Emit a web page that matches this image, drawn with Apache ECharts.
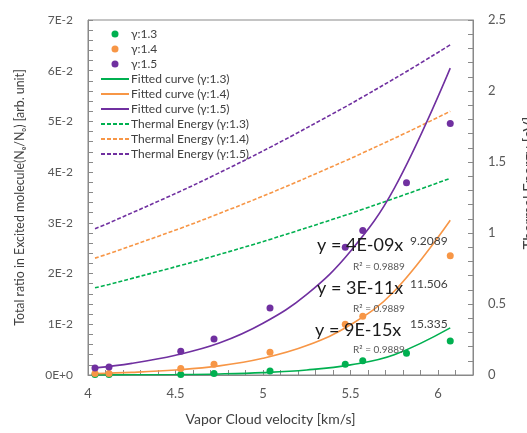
<!DOCTYPE html>
<html>
<head>
<meta charset="utf-8">
<script src="https://cdn.jsdelivr.net/npm/echarts@6/dist/echarts.min.js"></script>
<style>html,body{margin:0;padding:0;background:#fff}#c{width:527px;height:433px}</style>
</head>
<body>
<div id="c"></div>
<script>
// ---- data ----
const velG = [4.04, 4.12, 4.53, 4.72, 5.04, 5.47, 5.57, 5.82, 6.07];
const ratioG = [0.0001, 0.0001, 0.0001, 0.0003, 0.0008, 0.0021, 0.0028, 0.0043, 0.0067];
const velO = [4.04, 4.12, 4.53, 4.72, 5.04, 5.47, 5.57, 6.07];
const ratioO = [0.0003, 0.0003, 0.0013, 0.0021, 0.0045, 0.0100, 0.0116, 0.0235];
const velP = [4.04, 4.12, 4.53, 4.72, 5.04, 5.47, 5.57, 5.82, 6.07];
const ratioP = [0.0014, 0.0016, 0.0047, 0.0071, 0.0132, 0.0252, 0.0285, 0.0379, 0.0496];

// fitted curves
const fitX = [4.04, 4.25, 4.5, 4.75, 5.0, 5.25, 5.5, 5.75, 6.07];
const fitG = [0.00002, 0.00004, 0.00009, 0.00021, 0.00047, 0.00099, 0.0020, 0.0040, 0.0093];
const fitO = [0.00028, 0.00051, 0.00098, 0.0018, 0.0033, 0.0058, 0.0099, 0.0165, 0.0305];
const fitP = [0.0014, 0.0023, 0.0039, 0.0063, 0.0102, 0.0159, 0.0244, 0.0368, 0.0605];

// thermal energy [eV]
const velT = [4.04, 4.12, 4.53, 4.72, 5.04, 5.47, 5.57, 5.82, 6.07];
const energyG = [0.614, 0.638, 0.772, 0.838, 0.955, 1.125, 1.167, 1.274, 1.385];
const energyO = [0.823, 0.855, 1.034, 1.123, 1.280, 1.508, 1.564, 1.707, 1.857];
const energyP = [1.030, 1.071, 1.295, 1.406, 1.603, 1.888, 1.958, 2.137, 2.325];

const names = ['γ:1.3', 'γ:1.4', 'γ:1.5',
  'Fitted curve (γ:1.3)', 'Fitted curve (γ:1.4)', 'Fitted curve (γ:1.5)',
  'Thermal Energy (γ:1.3)', 'Thermal Energy (γ:1.4)', 'Thermal Energy (γ:1.5)'];

const equations = [
  { main: 'y = 4E-09x', sup: '9.2089', r2: 'R² = 0.9889' },
  { main: 'y = 3E-11x', sup: '11.506', r2: 'R² = 0.9889' },
  { main: 'y = 9E-15x', sup: '15.335', r2: 'R² = 0.9889' }
];

const xTitle = 'Vapor Cloud velocity [km/s]';
const yTitle = 'Total ratio in Excited molecule(Nₑ/Nₒ) [arb. unit]';
const y2Title = 'Thermal Energy [eV]';

const GREEN = '#00B050', ORANGE = '#F79646', PURPLE = '#7030A0';
const FONT = 'Lato, "Open Sans", sans-serif';
const AX = '#898989';

const pairs = (xs, ys) => xs.map((x, i) => [x, ys[i]]);
const isMult = (v, m) => Math.abs(v / m - Math.round(v / m)) < 1e-6;

const chart = echarts.init(document.getElementById('c'), null, { renderer: 'canvas' });

function scatter(name, xs, ys, color) {
  return { name, type: 'scatter', data: pairs(xs, ys), symbol: 'circle', symbolSize: 7,
    itemStyle: { color, opacity: 1 }, z: 4 };
}
function fit(name, ys, color) {
  return { name, type: 'line', data: pairs(fitX, ys), smooth: 0.4, symbol: 'none',
    lineStyle: { color, width: 1.6 }, itemStyle: { color }, z: 3 };
}
function thermal(name, ys, color) {
  return { name, type: 'line', yAxisIndex: 1, data: pairs(velT, ys), smooth: 0.4, symbol: 'none',
    lineStyle: { color, width: 1.6, type: [4, 2] }, itemStyle: { color }, z: 2 };
}

const graphics = [];
const eqPos = [
  { x: 317, y: 247, sx: 410, sy: 242, rx: 353, ry: 268 },
  { x: 317, y: 290, sx: 410, sy: 285, rx: 353, ry: 310 },
  { x: 315, y: 332, sx: 410, sy: 325, rx: 353, ry: 351 }
];
equations.forEach((e, i) => {
  const p = eqPos[i];
  graphics.push({ type: 'text', left: p.x, top: p.y - 11, z: 10,
    style: { text: e.main, font: '18px ' + FONT, fill: '#1a1a1a' } });
  graphics.push({ type: 'text', left: p.sx, top: p.sy - 7, z: 10,
    style: { text: e.sup, font: '12px ' + FONT, fill: '#404040' } });
  graphics.push({ type: 'text', left: p.rx, top: p.ry - 6, z: 10,
    style: { text: e.r2, font: '10px ' + FONT, fill: '#595959' } });
});
// secondary axis title (clipped at the right edge, as in the reference)
graphics.push({ type: 'text', x: 529, y: 183, rotation: Math.PI / 2, z: 10,
  style: { text: y2Title, font: '15px ' + FONT, fill: '#404040', align: 'center', verticalAlign: 'middle' } });

const legendData = names.map((n, i) => i < 3 ? { name: n }
  : { name: n, itemStyle: { color: 'rgba(0,0,0,0)', borderWidth: 0, opacity: 0 } });

chart.setOption({
  animation: false,
  backgroundColor: '#fff',
  textStyle: { fontFamily: FONT },
  grid: { left: 88, right: 54, top: 20, bottom: 58, show: true, borderColor: AX, borderWidth: 1,
    containLabel: false, outerBoundsMode: 'none' },
  legend: {
    data: legendData, orient: 'vertical', left: 100, top: 28, padding: 0,
    itemWidth: 28, itemHeight: 7, itemGap: 3,
    textStyle: { fontSize: 12, color: '#404040', fontFamily: FONT, lineHeight: 10.2, padding: [0, 0, 0, -3] }
  },
  xAxis: {
    type: 'value', min: 4, max: 6.2, interval: 0.1,
    name: xTitle, nameLocation: 'middle', nameGap: 37,
    nameTextStyle: { fontSize: 14, color: '#404040', padding: [0, 20, 0, 0] },
    axisLine: { lineStyle: { color: AX } },
    axisTick: { inside: true, length: 5, lineStyle: { color: AX } },
    axisLabel: { fontSize: 13, color: '#595959', margin: 12,
      formatter: v => isMult(v, 0.5) ? String(Math.round(v * 10) / 10) : '' },
    splitLine: { show: false }
  },
  yAxis: [{
    type: 'value', min: 0, max: 0.07, interval: 0.002,
    name: yTitle, nameLocation: 'middle', nameGap: 62,
    nameTextStyle: { fontSize: 12.4, color: '#404040' },
    axisLine: { show: true, lineStyle: { color: AX } },
    axisTick: { show: true, inside: true, length: 5, lineStyle: { color: AX } },
    axisLabel: { fontSize: 12, color: '#595959', margin: 15,
      formatter: v => isMult(v, 0.01) ? (v < 1e-9 ? '0E+0' : Math.round(v * 100) + 'E-2') : '' },
    splitLine: { show: false }
  }, {
    type: 'value', min: 0, max: 2.5, interval: 0.1, position: 'right',
    axisLine: { show: true, lineStyle: { color: AX } },
    axisTick: { show: true, inside: true, length: 5, lineStyle: { color: AX } },
    axisLabel: { fontSize: 13, color: '#595959', margin: 15,
      formatter: v => isMult(v, 0.5) ? String(Math.round(v * 10) / 10) : '' },
    splitLine: { show: false }
  }],
  graphic: graphics,
  series: [
    scatter(names[0], velG, ratioG, GREEN),
    scatter(names[1], velO, ratioO, ORANGE),
    scatter(names[2], velP, ratioP, PURPLE),
    fit(names[3], fitG, GREEN),
    fit(names[4], fitO, ORANGE),
    fit(names[5], fitP, PURPLE),
    thermal(names[6], energyG, GREEN),
    thermal(names[7], energyO, ORANGE),
    thermal(names[8], energyP, PURPLE)
  ]
});
</script>
</body>
</html>
